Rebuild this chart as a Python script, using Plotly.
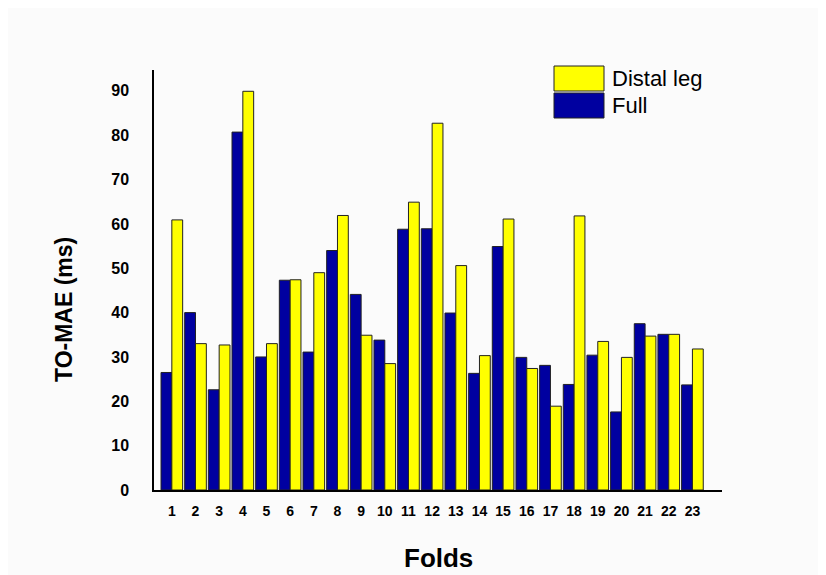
import plotly.graph_objects as go

folds = list(range(1, 24))
fold_labels = [str(f) for f in folds]
full = [26.5, 40.0, 22.6, 80.7, 30.0, 47.3, 31.1, 54.0, 44.1, 33.8, 58.8, 58.9,
        39.9, 26.3, 54.9, 29.9, 28.1, 23.8, 30.4, 17.6, 37.5, 35.1, 23.7]
distal = [60.9, 33.0, 32.7, 89.9, 33.0, 47.4, 49.0, 61.9, 34.9, 28.5, 64.9, 82.7,
          50.6, 30.3, 61.1, 27.4, 18.9, 61.8, 33.5, 29.9, 34.7, 35.1, 31.8]
y_ticks = [0, 10, 20, 30, 40, 50, 60, 70, 80, 90]

NAVY = "#0000A0"
YELLOW = "#FFFF00"
font_family = "Liberation Sans, Arial, sans-serif"

fig = go.Figure()
fig.add_trace(go.Bar(x=folds, y=full, name="Full", marker=dict(color=NAVY, line=dict(color="#222222", width=1)), showlegend=False))
fig.add_trace(go.Bar(x=folds, y=distal, name="Distal leg", marker=dict(color=YELLOW, line=dict(color="#222222", width=1)), showlegend=False))

# page body has an 8px margin, so the figure is 818x567 and offset by 8px
L, R, T, B = 146, 104, 62, 85
W, H = 818, 567
pw, ph = W - L - R, H - T - B

fig.update_layout(
    width=W, height=H,
    margin=dict(l=L, r=R, t=T, b=B),
    paper_bgcolor="#FBFBFB", plot_bgcolor="#FBFBFB",
    barmode="group", bargap=0.085, bargroupgap=0,
    font=dict(family=font_family, color="black"),
    xaxis=dict(range=[0.246, 24.25], tickmode="array", tickvals=folds, ticktext=fold_labels,
               showline=True, linecolor="black", linewidth=1.5, showgrid=False, zeroline=False,
               automargin=False,
               ticks="", ticklabelstandoff=7, tickfont=dict(size=14, family=font_family, weight="bold")),
    yaxis=dict(range=[0, 94.7], tickmode="array", tickvals=y_ticks,
               showline=True, linecolor="black", linewidth=1.5, showgrid=False, zeroline=False,
               automargin=False,
               ticks="", ticklabelstandoff=20, tickfont=dict(size=16, family=font_family, weight="bold")),
)

# axis titles
fig.add_annotation(xref="paper", yref="paper", x=(430 - L) / pw, y=1 - (550 - T) / ph,
                   text="<b>Folds</b>", showarrow=False, xanchor="center", yanchor="middle",
                   font=dict(size=26, family=font_family, color="black"))
fig.add_annotation(xref="paper", yref="paper", x=(56 - L) / pw, y=1 - (302 - T) / ph,
                   text="<b>TO-MAE (ms)</b>", showarrow=False, textangle=-90,
                   xanchor="center", yanchor="middle",
                   font=dict(size=23, family=font_family, color="black"))

# custom legend (large swatches as in the reference)
legend_items = [("Distal leg", YELLOW), ("Full", NAVY)]
x0, x1 = 546 - L, 596 - L
for i, (label, color) in enumerate(legend_items):
    ytop = 58 + i * 27 - T
    fig.add_shape(type="rect", xref="paper", yref="paper",
                  x0=x0 / pw, x1=x1 / pw,
                  y0=1 - ytop / ph, y1=1 - (ytop + 25) / ph,
                  fillcolor=color, line=dict(color="#222222", width=1))
    fig.add_annotation(xref="paper", yref="paper", x=(602 - L) / pw, y=1 - (ytop + 12.5) / ph,
                       text=label, showarrow=False, xanchor="left", yanchor="middle",
                       font=dict(size=22, family=font_family, color="black"))

fig.write_html("out.html")
